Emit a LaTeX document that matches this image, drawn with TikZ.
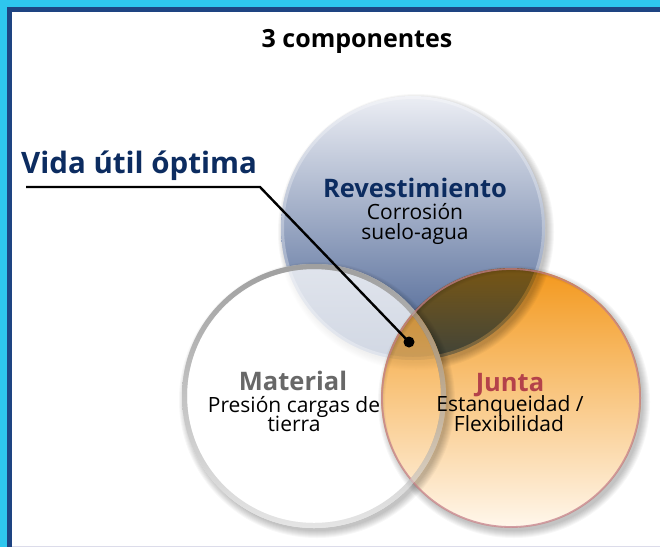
\documentclass[tikz,border=0pt]{standalone}
\usepackage{fontspec}
\setmainfont{Open Sans}
\definecolor{framecyan}{RGB}{46,198,238}
\definecolor{framenavy}{RGB}{30,68,130}
\definecolor{lavline}{RGB}{220,220,234}
\definecolor{bluetop}{RGB}{236,238,244}
\definecolor{bluemid}{RGB}{160,176,205}
\definecolor{bluebot}{RGB}{66,92,142}
\definecolor{orgtop}{RGB}{243,152,28}
\definecolor{orgmid}{RGB}{248,190,100}
\definecolor{orgbot}{RGB}{255,247,236}
\definecolor{pinkring}{RGB}{196,128,138}
\definecolor{navytext}{RGB}{12,44,96}
\definecolor{graytext}{RGB}{104,104,104}
\definecolor{juntared}{RGB}{180,66,74}
\begin{document}
\begin{tikzpicture}[x=1pt,y=-1pt,
  titletext/.style={font=\bfseries\fontsize{25}{28}\selectfont, text=black, inner sep=0, anchor=base},
  vidatext/.style={font=\bfseries\fontsize{29.5}{32}\selectfont, text=navytext, inner sep=0, anchor=base west},
  headtext/.style={font=\bfseries\fontsize{25.5}{28}\selectfont, inner sep=0, anchor=base},
  bodytext/.style={font=\fontsize{21}{22}\selectfont, text=black, inner sep=0, anchor=base},
  softshadow/.style={fill=black, opacity=0.03, even odd rule}
]
\useasboundingbox (0,0) rectangle (660,547);
% frame
\fill[framecyan] (0,0) rectangle (660,547);
\fill[framenavy] (7,7) rectangle (660,547);
\fill[white] (11.5,11.5) rectangle (660,545.5);
\fill[lavline] (11.5,545.5) rectangle (660,547);

\coordinate (cR) at (413,228);
\coordinate (cM) at (314,396);
\coordinate (cJ) at (511,398);

% Revestimiento circle
\foreach \i in {1,...,8} {\fill[softshadow] ([shift={(3,4)}]cR) circle ({130+\i}) (cR) circle (131.5);}
\shade[top color=bluetop, middle color=bluemid, bottom color=bluebot] (cR) circle (132);
\draw[white, opacity=0.3, line width=3] (cR) circle (130.5);

% Material circle
\foreach \i in {1,...,8} {\fill[softshadow] ([shift={(3,4)}]cM) circle ({130+\i}) (cM) circle (131.5);}
\fill[white, opacity=0.76] (cM) circle (132);
\shade[even odd rule, top color=black!45, bottom color=black!12] (cM) circle (132) (cM) circle (127);

% Junta circle
\foreach \i in {1,...,8} {\fill[softshadow] ([shift={(3,4)}]cJ) circle ({128+\i}) (cJ) circle (129.5);}
\begin{scope}[blend mode=multiply]
\shade[top color=orgtop, middle color=orgmid, bottom color=orgbot] (cJ) circle (130);
\end{scope}
\draw[pinkring, line width=1.8, opacity=0.75] (cJ) circle (129);
\shade[even odd rule, top color=black!30, bottom color=black!8, opacity=0.5] (cM) circle (132) (cM) circle (127);

% texts
\node[titletext] (title) at (357,47) {3 componentes};
\node[vidatext] (vida) at (21,173) {Vida útil óptima};
\node[headtext, text=navytext] (rev) at (415,197) {Revestimiento};
\node[bodytext] (rev1) at (415,219) {Corrosión};
\node[bodytext] (rev2) at (415,239) {suelo-agua};
\node[headtext, text=graytext] (mat) at (293,390) {Material};
\node[bodytext] (mat1) at (294,412) {Presión cargas de};
\node[bodytext] (mat2) at (294,431) {tierra};
\node[headtext, text=juntared] (jun) at (510,391) {Junta};
\node[bodytext] (jun1) at (510,411) {Estanqueidad /};
\node[bodytext] (jun2) at (509,431) {Flexibilidad};

% connector
\node[circle, fill=black, inner sep=0, minimum size=11pt] (dot) at (409,342) {};
\coordinate (lstart) at (26,187);
\coordinate (lbend) at (260,187);
\draw[black, line width=2.4] (lstart) -- (lbend) -- (dot.center);
\end{tikzpicture}
\end{document}
